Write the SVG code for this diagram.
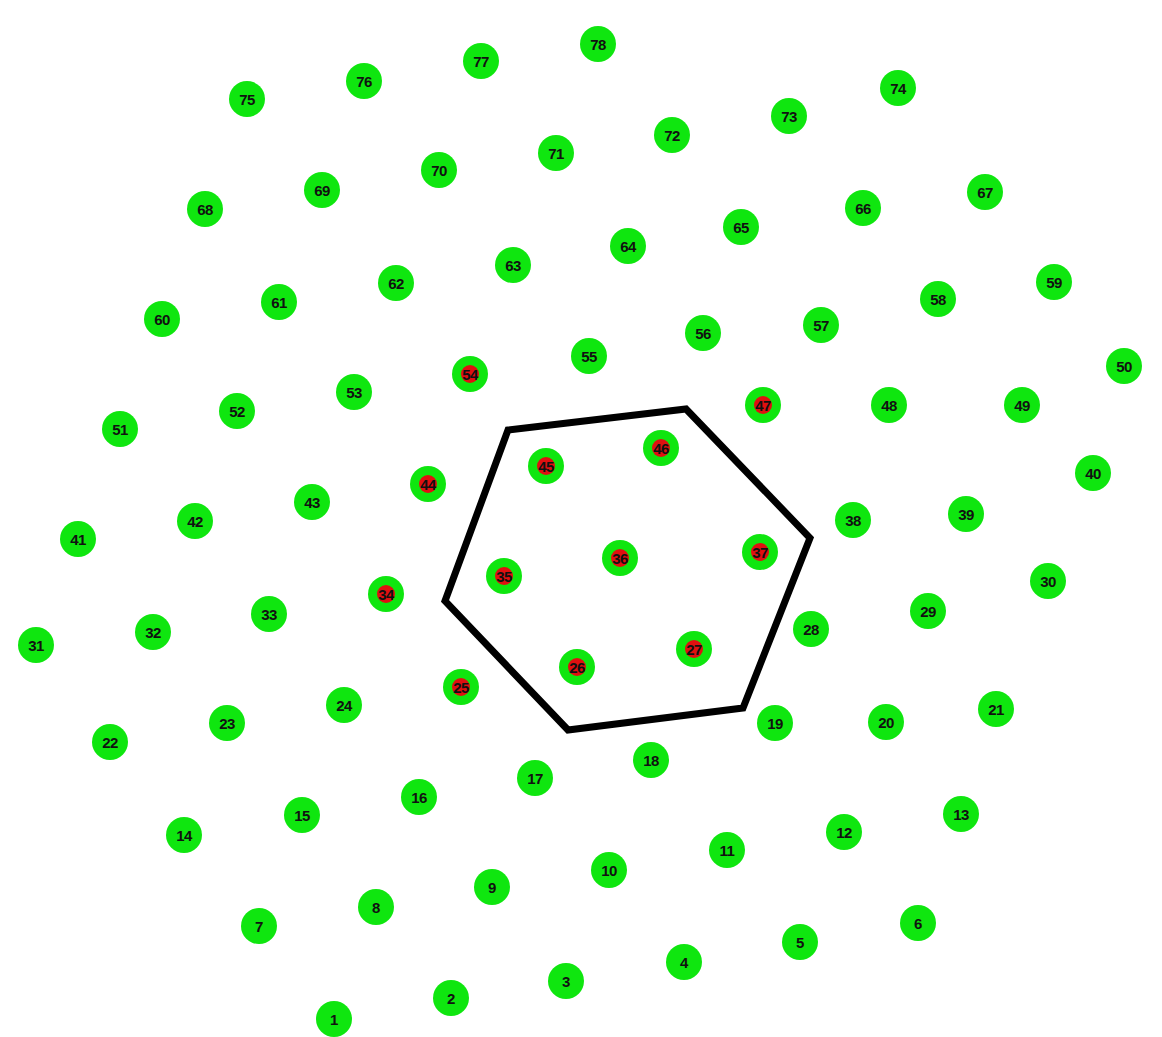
<svg xmlns="http://www.w3.org/2000/svg" width="1162" height="1037" viewBox="0 0 1162 1037">
<style>
.n circle.g{fill:#0fe60f;}
.n circle.r{fill:#e01010;}
.n text{font-family:"Liberation Sans","DejaVu Sans",sans-serif;font-size:15px;font-weight:bold;fill:#111;text-anchor:middle;dominant-baseline:central;letter-spacing:-0.5px;}
.hex{fill:none;stroke:#000;stroke-width:7;stroke-linejoin:miter;}
</style>
<rect width="1162" height="1037" fill="#fff"/>
<g id="connectors">
<polygon class="hex" points="508,430 686,409 810,538 743,708 568,730 445,601"/>
</g>
<g id="n1" class="n"><circle class="g" cx="334" cy="1019" r="18"/><text x="334" y="1019">1</text></g>
<g id="n2" class="n"><circle class="g" cx="451" cy="998" r="18"/><text x="451" y="998">2</text></g>
<g id="n3" class="n"><circle class="g" cx="566" cy="981" r="18"/><text x="566" y="981">3</text></g>
<g id="n4" class="n"><circle class="g" cx="684" cy="962" r="18"/><text x="684" y="962">4</text></g>
<g id="n5" class="n"><circle class="g" cx="800" cy="942" r="18"/><text x="800" y="942">5</text></g>
<g id="n6" class="n"><circle class="g" cx="918" cy="923" r="18"/><text x="918" y="923">6</text></g>
<g id="n7" class="n"><circle class="g" cx="259" cy="926" r="18"/><text x="259" y="926">7</text></g>
<g id="n8" class="n"><circle class="g" cx="376" cy="907" r="18"/><text x="376" y="907">8</text></g>
<g id="n9" class="n"><circle class="g" cx="492" cy="887" r="18"/><text x="492" y="887">9</text></g>
<g id="n10" class="n"><circle class="g" cx="609" cy="870" r="18"/><text x="609" y="870">10</text></g>
<g id="n11" class="n"><circle class="g" cx="727" cy="850" r="18"/><text x="727" y="850">11</text></g>
<g id="n12" class="n"><circle class="g" cx="844" cy="832" r="18"/><text x="844" y="832">12</text></g>
<g id="n13" class="n"><circle class="g" cx="961" cy="814" r="18"/><text x="961" y="814">13</text></g>
<g id="n14" class="n"><circle class="g" cx="184" cy="835" r="18"/><text x="184" y="835">14</text></g>
<g id="n15" class="n"><circle class="g" cx="302" cy="815" r="18"/><text x="302" y="815">15</text></g>
<g id="n16" class="n"><circle class="g" cx="419" cy="797" r="18"/><text x="419" y="797">16</text></g>
<g id="n17" class="n"><circle class="g" cx="535" cy="778" r="18"/><text x="535" y="778">17</text></g>
<g id="n18" class="n"><circle class="g" cx="651" cy="760" r="18"/><text x="651" y="760">18</text></g>
<g id="n19" class="n"><circle class="g" cx="775" cy="723" r="18"/><text x="775" y="723">19</text></g>
<g id="n20" class="n"><circle class="g" cx="886" cy="722" r="18"/><text x="886" y="722">20</text></g>
<g id="n21" class="n"><circle class="g" cx="996" cy="709" r="18"/><text x="996" y="709">21</text></g>
<g id="n22" class="n"><circle class="g" cx="110" cy="742" r="18"/><text x="110" y="742">22</text></g>
<g id="n23" class="n"><circle class="g" cx="227" cy="723" r="18"/><text x="227" y="723">23</text></g>
<g id="n24" class="n"><circle class="g" cx="344" cy="705" r="18"/><text x="344" y="705">24</text></g>
<g id="n25" class="n"><circle class="g" cx="461" cy="687" r="18"/><circle class="r" cx="461" cy="687" r="9"/><text x="461" y="687">25</text></g>
<g id="n26" class="n"><circle class="g" cx="577" cy="667" r="18"/><circle class="r" cx="577" cy="667" r="9"/><text x="577" y="667">26</text></g>
<g id="n27" class="n"><circle class="g" cx="694" cy="649" r="18"/><circle class="r" cx="694" cy="649" r="9"/><text x="694" y="649">27</text></g>
<g id="n28" class="n"><circle class="g" cx="811" cy="629" r="18"/><text x="811" y="629">28</text></g>
<g id="n29" class="n"><circle class="g" cx="928" cy="611" r="18"/><text x="928" y="611">29</text></g>
<g id="n30" class="n"><circle class="g" cx="1048" cy="581" r="18"/><text x="1048" y="581">30</text></g>
<g id="n31" class="n"><circle class="g" cx="36" cy="645" r="18"/><text x="36" y="645">31</text></g>
<g id="n32" class="n"><circle class="g" cx="153" cy="632" r="18"/><text x="153" y="632">32</text></g>
<g id="n33" class="n"><circle class="g" cx="269" cy="614" r="18"/><text x="269" y="614">33</text></g>
<g id="n34" class="n"><circle class="g" cx="386" cy="594" r="18"/><circle class="r" cx="386" cy="594" r="9"/><text x="386" y="594">34</text></g>
<g id="n35" class="n"><circle class="g" cx="504" cy="576" r="18"/><circle class="r" cx="504" cy="576" r="9"/><text x="504" y="576">35</text></g>
<g id="n36" class="n"><circle class="g" cx="620" cy="558" r="18"/><circle class="r" cx="620" cy="558" r="9"/><text x="620" y="558">36</text></g>
<g id="n37" class="n"><circle class="g" cx="760" cy="552" r="18"/><circle class="r" cx="760" cy="552" r="9"/><text x="760" y="552">37</text></g>
<g id="n38" class="n"><circle class="g" cx="853" cy="520" r="18"/><text x="853" y="520">38</text></g>
<g id="n39" class="n"><circle class="g" cx="966" cy="514" r="18"/><text x="966" y="514">39</text></g>
<g id="n40" class="n"><circle class="g" cx="1093" cy="473" r="18"/><text x="1093" y="473">40</text></g>
<g id="n41" class="n"><circle class="g" cx="78" cy="539" r="18"/><text x="78" y="539">41</text></g>
<g id="n42" class="n"><circle class="g" cx="195" cy="521" r="18"/><text x="195" y="521">42</text></g>
<g id="n43" class="n"><circle class="g" cx="312" cy="502" r="18"/><text x="312" y="502">43</text></g>
<g id="n44" class="n"><circle class="g" cx="428" cy="484" r="18"/><circle class="r" cx="428" cy="484" r="9"/><text x="428" y="484">44</text></g>
<g id="n45" class="n"><circle class="g" cx="546" cy="466" r="18"/><circle class="r" cx="546" cy="466" r="9"/><text x="546" y="466">45</text></g>
<g id="n46" class="n"><circle class="g" cx="661" cy="448" r="18"/><circle class="r" cx="661" cy="448" r="9"/><text x="661" y="448">46</text></g>
<g id="n47" class="n"><circle class="g" cx="763" cy="405" r="18"/><circle class="r" cx="763" cy="405" r="9"/><text x="763" y="405">47</text></g>
<g id="n48" class="n"><circle class="g" cx="889" cy="405" r="18"/><text x="889" y="405">48</text></g>
<g id="n49" class="n"><circle class="g" cx="1022" cy="405" r="18"/><text x="1022" y="405">49</text></g>
<g id="n50" class="n"><circle class="g" cx="1124" cy="366" r="18"/><text x="1124" y="366">50</text></g>
<g id="n51" class="n"><circle class="g" cx="120" cy="429" r="18"/><text x="120" y="429">51</text></g>
<g id="n52" class="n"><circle class="g" cx="237" cy="411" r="18"/><text x="237" y="411">52</text></g>
<g id="n53" class="n"><circle class="g" cx="354" cy="392" r="18"/><text x="354" y="392">53</text></g>
<g id="n54" class="n"><circle class="g" cx="470" cy="374" r="18"/><circle class="r" cx="470" cy="374" r="9"/><text x="470" y="374">54</text></g>
<g id="n55" class="n"><circle class="g" cx="589" cy="356" r="18"/><text x="589" y="356">55</text></g>
<g id="n56" class="n"><circle class="g" cx="703" cy="333" r="18"/><text x="703" y="333">56</text></g>
<g id="n57" class="n"><circle class="g" cx="821" cy="325" r="18"/><text x="821" y="325">57</text></g>
<g id="n58" class="n"><circle class="g" cx="938" cy="299" r="18"/><text x="938" y="299">58</text></g>
<g id="n59" class="n"><circle class="g" cx="1054" cy="282" r="18"/><text x="1054" y="282">59</text></g>
<g id="n60" class="n"><circle class="g" cx="162" cy="319" r="18"/><text x="162" y="319">60</text></g>
<g id="n61" class="n"><circle class="g" cx="279" cy="302" r="18"/><text x="279" y="302">61</text></g>
<g id="n62" class="n"><circle class="g" cx="396" cy="283" r="18"/><text x="396" y="283">62</text></g>
<g id="n63" class="n"><circle class="g" cx="513" cy="265" r="18"/><text x="513" y="265">63</text></g>
<g id="n64" class="n"><circle class="g" cx="628" cy="246" r="18"/><text x="628" y="246">64</text></g>
<g id="n65" class="n"><circle class="g" cx="741" cy="227" r="18"/><text x="741" y="227">65</text></g>
<g id="n66" class="n"><circle class="g" cx="863" cy="208" r="18"/><text x="863" y="208">66</text></g>
<g id="n67" class="n"><circle class="g" cx="985" cy="192" r="18"/><text x="985" y="192">67</text></g>
<g id="n68" class="n"><circle class="g" cx="205" cy="209" r="18"/><text x="205" y="209">68</text></g>
<g id="n69" class="n"><circle class="g" cx="322" cy="190" r="18"/><text x="322" y="190">69</text></g>
<g id="n70" class="n"><circle class="g" cx="439" cy="170" r="18"/><text x="439" y="170">70</text></g>
<g id="n71" class="n"><circle class="g" cx="556" cy="153" r="18"/><text x="556" y="153">71</text></g>
<g id="n72" class="n"><circle class="g" cx="672" cy="135" r="18"/><text x="672" y="135">72</text></g>
<g id="n73" class="n"><circle class="g" cx="789" cy="116" r="18"/><text x="789" y="116">73</text></g>
<g id="n74" class="n"><circle class="g" cx="898" cy="88" r="18"/><text x="898" y="88">74</text></g>
<g id="n75" class="n"><circle class="g" cx="247" cy="99" r="18"/><text x="247" y="99">75</text></g>
<g id="n76" class="n"><circle class="g" cx="364" cy="81" r="18"/><text x="364" y="81">76</text></g>
<g id="n77" class="n"><circle class="g" cx="481" cy="61" r="18"/><text x="481" y="61">77</text></g>
<g id="n78" class="n"><circle class="g" cx="598" cy="44" r="18"/><text x="598" y="44">78</text></g>
</svg>
